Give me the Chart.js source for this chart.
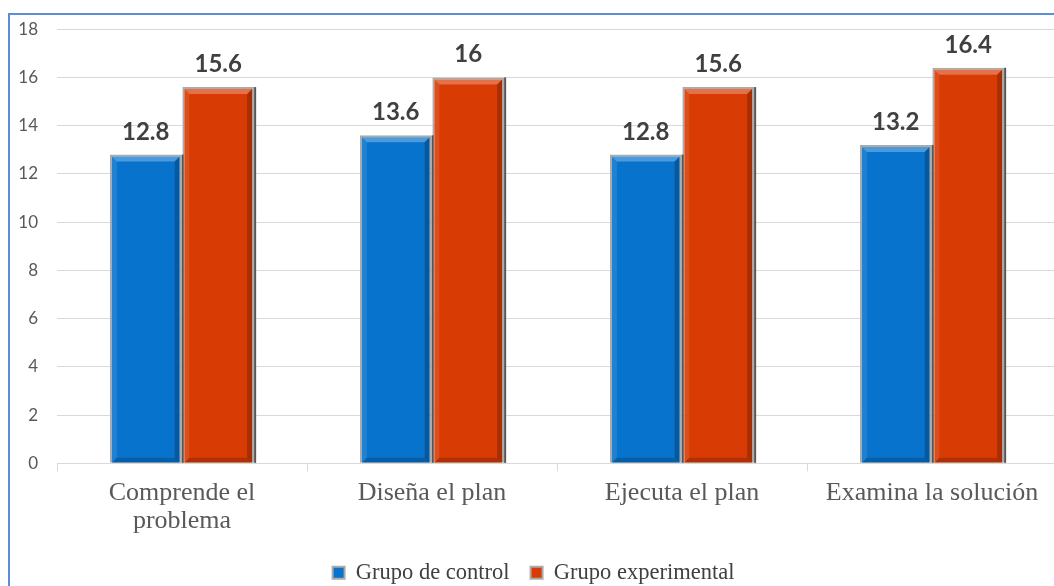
<!DOCTYPE html>
<html>
<head>
<meta charset="utf-8">
<script src="https://cdn.jsdelivr.net/npm/chart.js@4"></script>
<style>
  html, body { margin: 0; padding: 0; background: #fff; overflow: hidden; width: 1054px; height: 586px; }
  #frame { position: absolute; left: 8px; top: 13px; width: 1200px; height: 800px; border: 2px solid #5B8ED6; box-sizing: border-box; }
  #wrap { position: absolute; left: 0; top: 0; width: 1067px; height: 594px; }
</style>
</head>
<body>
<div id="frame"></div>
<div id="wrap"><canvas id="myChart"></canvas></div>
<script>
// data
const categories = [['Comprende el', 'problema'], 'Diseña el plan', 'Ejecuta el plan', 'Examina la solución'];
const seriesNames = ['Grupo de control', 'Grupo experimental'];
const controlValues = [12.8, 13.6, 12.8, 13.2];
const experimentalValues = [15.6, 16, 15.6, 16.4];
const yTicks = [0, 2, 4, 6, 8, 10, 12, 14, 16, 18];

// bevel + value labels on top of each bar
const barDecor = {
    id: 'barDecor',
    afterDatasetsDraw(chart) {
        const ctx = chart.ctx;
        ctx.save();
        chart.data.datasets.forEach((ds, di) => {
            const meta = chart.getDatasetMeta(di);
            meta.data.forEach((el, i) => {
                const p = el.getProps(['x', 'y', 'base', 'width'], true);
                const l = p.x - p.width / 2 + 2, r = p.x + p.width / 2 - 2;
                const t = p.y + 2, b = p.base;
                const d = 5;
                // top light band
                ctx.fillStyle = 'rgba(255,255,255,0.28)';
                ctx.beginPath();
                ctx.moveTo(l, t); ctx.lineTo(r, t); ctx.lineTo(r - d, t + d); ctx.lineTo(l + d, t + d);
                ctx.closePath(); ctx.fill();
                // left light band
                ctx.fillStyle = 'rgba(255,255,255,0.10)';
                ctx.beginPath();
                ctx.moveTo(l, t); ctx.lineTo(l + d, t + d); ctx.lineTo(l + d, b - d); ctx.lineTo(l, b);
                ctx.closePath(); ctx.fill();
                // right dark band
                ctx.fillStyle = 'rgba(0,0,0,0.22)';
                ctx.beginPath();
                ctx.moveTo(r, t); ctx.lineTo(r, b); ctx.lineTo(r - d, b - d); ctx.lineTo(r - d, t + d);
                ctx.closePath(); ctx.fill();
                // bottom dark band
                ctx.fillStyle = 'rgba(0,0,0,0.18)';
                ctx.beginPath();
                ctx.moveTo(l, b); ctx.lineTo(r, b); ctx.lineTo(r - d, b - d); ctx.lineTo(l + d, b - d);
                ctx.closePath(); ctx.fill();
                // outer shadow on the right
                ctx.fillStyle = '#555555';
                ctx.fillRect(p.x + p.width / 2, p.y, 2, p.base - p.y);

                // value label
                ctx.fillStyle = '#404040';
                ctx.font = 'bold 24px Lato';
                ctx.textAlign = 'center';
                ctx.textBaseline = 'alphabetic';
                ctx.fillText(String(ds.data[i]), p.x, p.y - 15);
            });
        });
        ctx.restore();
    }
};

const chartData = {
    labels: categories,
    datasets: [{
        label: seriesNames[0],
        data: controlValues,
        backgroundColor: '#0873CC',
        borderColor: '#ABABAB',
        borderWidth: 2,
        categoryPercentage: 0.58,
        barPercentage: 0.99
    }, {
        label: seriesNames[1],
        data: experimentalValues,
        backgroundColor: '#D83B04',
        borderColor: '#ABABAB',
        borderWidth: 2,
        categoryPercentage: 0.58,
        barPercentage: 0.99
    }]
};

const options = {
    responsive: true,
    maintainAspectRatio: false,
    animation: false,
    layout: { padding: { left: 10, right: 10, top: 27, bottom: 0 } },
    plugins: {
        legend: {
            position: 'bottom',
            labels: {
                boxWidth: 12,
                boxHeight: 12,
                padding: 21,
                color: '#404040',
                font: { family: 'Liberation Serif', size: 22.5 }
            }
        },
        tooltip: { enabled: false }
    },
    scales: {
        x: {
            afterFit: s => { s.height -= 3; },
            grid: { drawOnChartArea: false, drawTicks: true, tickLength: 8, color: '#D9D9D9' },
            border: { color: '#D9D9D9', width: 1 },
            ticks: {
                color: '#595959',
                padding: 8,
                maxRotation: 0,
                font: { family: 'Liberation Serif', size: 26, lineHeight: 1.08 }
            }
        },
        y: {
            min: 0,
            max: 18,
            afterFit: s => { s.width = 47; },
            afterBuildTicks: s => { s.ticks = yTicks.map(v => ({ value: v })); },
            grid: { drawTicks: false, color: '#D9D9D9' },
            border: { display: false },
            ticks: {
                color: '#595959',
                padding: 19,
                font: { family: 'Lato', size: 17 }
            }
        }
    }
};

const ctx = document.getElementById('myChart').getContext('2d');
const myChart = new Chart(ctx, {
    type: 'bar',
    data: chartData,
    options: options,
    plugins: [barDecor]
});
</script>
</body>
</html>
